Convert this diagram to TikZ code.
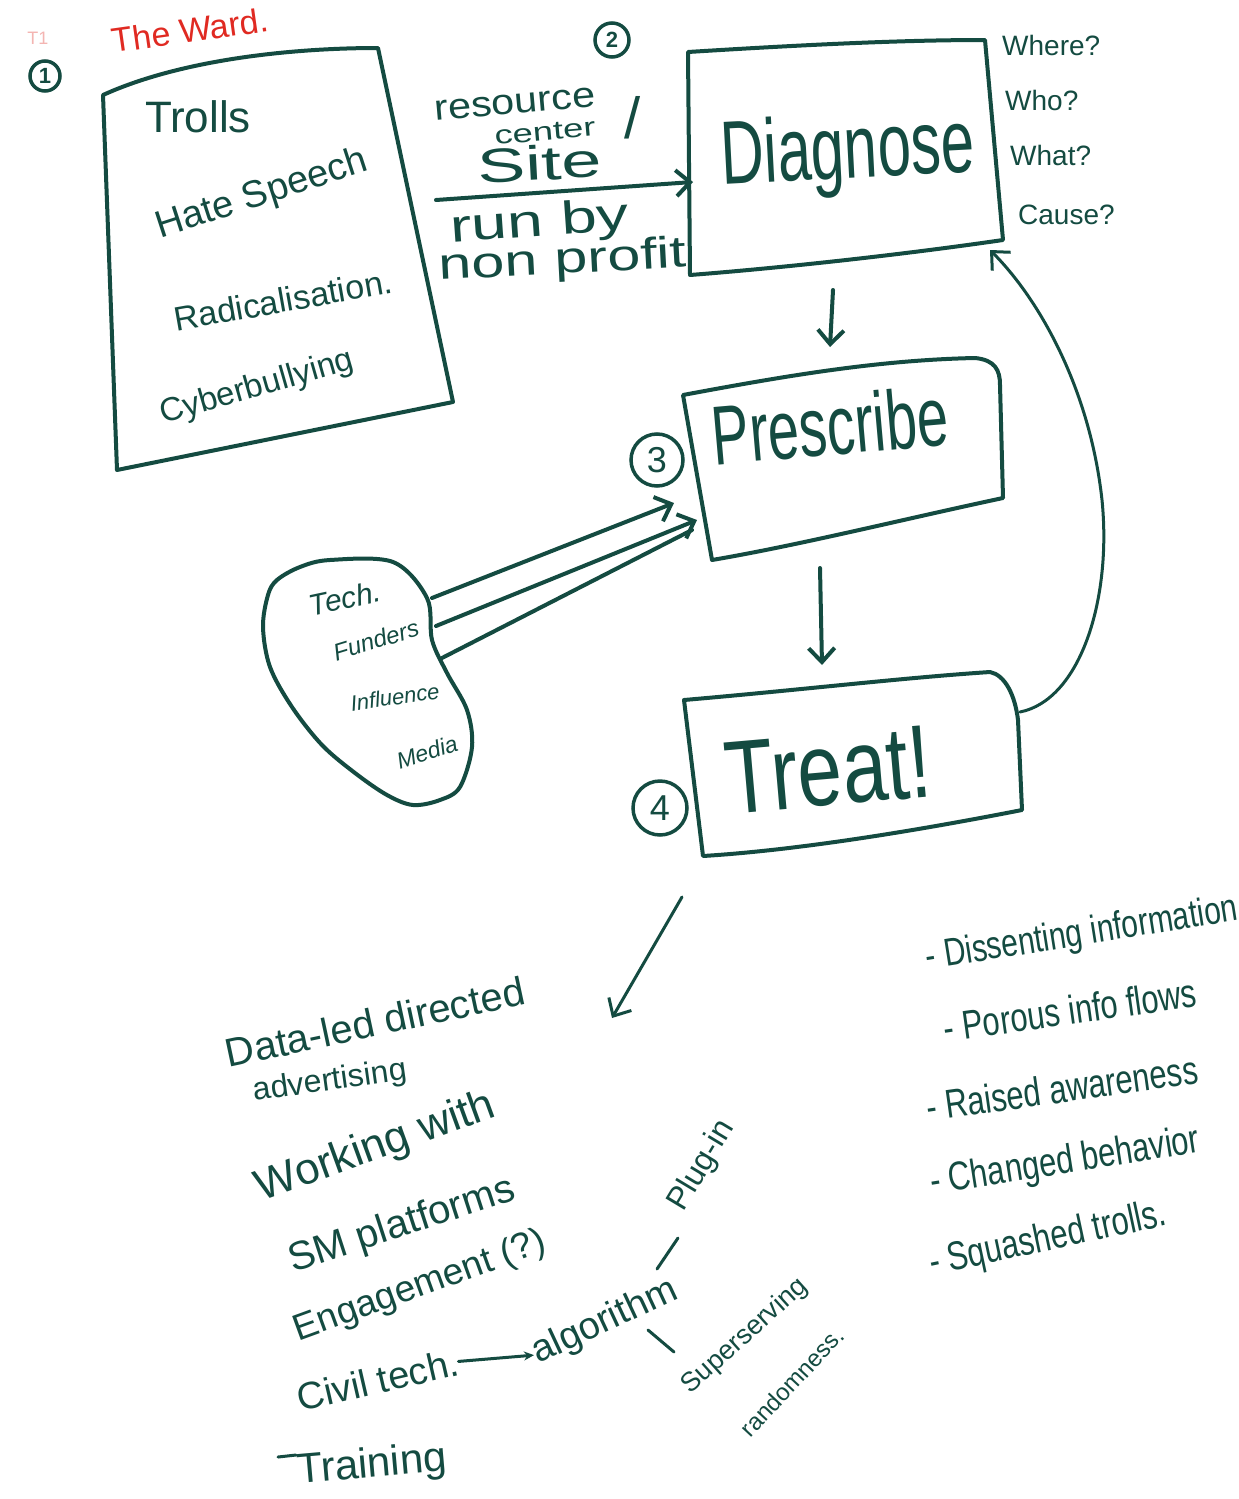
\documentclass[tikz,border=0pt]{standalone}
\usepackage{fontspec}
\setmainfont{Liberation Sans}
\usetikzlibrary{arrows.meta}
\definecolor{ink}{HTML}{144B41}
\definecolor{redink}{HTML}{E02A22}
\newcommand\hsz[1]{\fontsize{#1}{#1}\selectfont}
\tikzset{
  hand/.style={draw=ink, line width=4pt, line cap=round, line join=round},
  thin hand/.style={draw=ink, line width=3pt, line cap=round, line join=round},
  arr/.style={hand, -{Straight Barb[length=14pt,width=26pt]}},
  lbl/.style={text=ink, inner sep=0pt},
  num/.style={draw=ink, circle, line width=3.5pt, text=ink, inner sep=1pt},
}
\begin{document}
\begin{tikzpicture}[x=1pt,y=-1pt]
\useasboundingbox[fill=white] (0,0) rectangle (1239,1499);

% ---------- box 1 ----------
\draw[hand] (103,95) .. controls (180,60) and (290,48) .. (378,48)
  -- (453,402) -- (117,470) -- cycle;
\node[lbl, font=\hsz{44}] (trolls) at (198,117) {Trolls};
\node[lbl, font=\hsz{38}, rotate=18] (hate) at (262,195) {Hate Speech};
\node[lbl, font=\hsz{34}, rotate=10] (radical) at (283,300) {Radicalisation.};
\node[lbl, font=\hsz{33}, rotate=16] (cyber) at (257,388) {Cyberbullying};

\node[text=redink, font=\hsz{34}, rotate=8, inner sep=0pt] (ward) at (190,30) {The Ward.};
\node[text=redink!35, font=\hsz{18}, inner sep=0pt] (t1) at (38,38) {T1};
\node[num, font=\bfseries\hsz{22}, minimum size=30pt] (n1) at (45,76) {1};
\node[num, font=\bfseries\hsz{22}, minimum size=34pt] (n2) at (612,40) {2};

% ---------- site label & arrow ----------
\node[lbl, font=\hsz{36}, rotate=5] (res) at (515,104) {\scalebox{1.15}[1]{resource}};
\node[lbl, font=\hsz{26}, rotate=5] (cen) at (545,132) {\scalebox{1.4}[1]{center}};
\node[lbl, font=\hsz{48}, rotate=3] (site) at (540,163) {\scalebox{1.5}[1]{Site}};
\node[lbl, font=\hsz{58}] (slash) at (633,118) {/};
\node[lbl, font=\hsz{46}, rotate=4] (runby) at (540,224) {\scalebox{1.4}[1]{run by}};
\node[lbl, font=\hsz{44}, rotate=3] (nonprofit) at (563,262) {\scalebox{1.35}[1]{non profit}};

% ---------- Diagnose ----------
\draw[hand] (688,52) .. controls (800,45) and (900,40) .. (985,40)
  -- (1003,240) .. controls (900,255) and (780,268) .. (690,275) -- cycle;
\node[lbl, font=\hsz{60}, rotate=3] (diag) at (848,155) {\scalebox{1}[1.5]{Diagnose}};
\coordinate (dl) at (693,182);
\coordinate (db) at (833,290);
\coordinate (dbr) at (990,250);
\node[lbl, font=\hsz{28}, anchor=west] (where) at (1002,45) {Where?};
\node[lbl, font=\hsz{28}, anchor=west] (who) at (1005,100) {Who?};
\node[lbl, font=\hsz{28}, anchor=west] (what) at (1010,155) {What?};
\node[lbl, font=\hsz{28}, anchor=west] (cause) at (1018,215) {Cause?};

\coordinate (s0) at (436,200);
\draw[arr] (s0) -- (dl);

% ---------- Prescribe ----------
\draw[hand] (683,395) .. controls (790,375) and (880,360) .. (975,358)
  .. controls (995,360) and (1000,370) .. (1000,385)
  -- (1003,498) .. controls (900,520) and (800,545) .. (712,560)
  -- cycle;
\node[lbl, font=\hsz{56}, rotate=5] (presc) at (830,425) {\scalebox{1}[1.5]{Prescribe}};
\node[num, font=\hsz{36}, minimum size=52pt, inner sep=0pt] (n3) at (657,460) {3};
\coordinate (pt) at (830,347);
\coordinate (pb) at (820,568);
\coordinate (pl1) at (674,503);
\coordinate (pl2) at (697,520);
\coordinate (pl3) at (692,530);
\draw[arr] (db) -- (pt);

% ---------- Treat ----------
\draw[hand] (684,700) .. controls (800,690) and (900,678) .. (990,672)
  .. controls (1005,675) and (1015,695) .. (1018,720)
  -- (1022,810) .. controls (920,830) and (800,850) .. (703,856)
  -- cycle;
\node[lbl, font=\hsz{80}, rotate=5] (treat) at (828,770) {\scalebox{1}[1.3]{Treat!}};
\node[num, font=\hsz{36}, minimum size=54pt, inner sep=0pt] (n4) at (660,808) {4};
\coordinate (tt) at (822,665);
\coordinate (tr) at (1020,712);
\coordinate (tb) at (682,897);
\draw[arr] (pb) -- (tt);

% feedback loop
\draw[thin hand, -{Straight Barb[length=14pt,width=26pt]}] (tr) .. controls (1080,700) and (1112,600) .. (1102,500)
  .. controls (1090,390) and (1040,300) .. (dbr);

% ---------- blob ----------
\draw[hand] plot[smooth cycle, tension=0.55] coordinates {
 (277,580) (300,567) (330,560) (393,562) (427,598) (432,640) (447,673)
 (467,710) (472,747) (460,787) (440,800) (413,805) (387,795) (355,773)
 (322,745) (292,707) (270,667) (263,627) (268,595)};
\node[lbl, font=\itshape\hsz{30}, rotate=12] (tech) at (345,598) {Tech.};
\node[lbl, font=\itshape\hsz{24}, rotate=17] (fund) at (376,640) {Funders};
\node[lbl, font=\itshape\hsz{22}, rotate=8] (infl) at (395,697) {Influence};
\node[lbl, font=\itshape\hsz{23}, rotate=18] (media) at (427,752) {Media};
\coordinate (b1) at (432,598);
\coordinate (b2) at (436,626);
\coordinate (b3) at (442,658);
\draw[arr] (b1) -- (pl1);
\draw[arr] (b2) -- (pl2);
\draw[hand] (b3) -- (pl3);

% ---------- arrow to lists ----------
\coordinate (le) at (612,1018);
\draw[thin hand, -{Straight Barb[length=14pt,width=26pt]}] (tb) -- (le);

% ---------- left list ----------
\node[lbl, font=\hsz{40}, rotate=12] (data) at (375,1022) {Data-led directed};
\node[lbl, font=\hsz{32}, rotate=8] (adv) at (330,1082) {advertising};
\node[lbl, font=\hsz{44}, rotate=20] (work) at (376,1148) {Working with};
\node[lbl, font=\hsz{40}, rotate=18] (sm) at (402,1226) {SM platforms};
\node[lbl, font=\hsz{37}, rotate=20] (eng) at (420,1287) {Engagement (?)};
\node[lbl, font=\hsz{38}, rotate=13] (civil) at (378,1380) {Civil tech.};
\node[lbl, font=\hsz{38}, rotate=25] (algo) at (605,1322) {algorithm};
\draw[thin hand, -{Stealth[length=10pt,width=9pt]}] (civil.east) -- (algo.west);
\node[lbl, font=\hsz{32}, rotate=59] (plug) at (702,1166) {Plug-in};
\coordinate (algo1) at (657,1269);
\coordinate (plug1) at (678,1238);
\draw[thin hand] (algo1) -- (plug1);
\coordinate (algo2) at (648,1330);
\coordinate (sup2) at (674,1352);
\draw[thin hand] (algo2) -- (sup2);
\node[lbl, font=\hsz{27}, rotate=42] (super) at (745,1336) {Superserving};
\node[lbl, font=\hsz{24}, rotate=47] (rand) at (792,1382) {randomness.};
\node[lbl, font=\hsz{42}, rotate=5] (train) at (372,1466) {Training};
\coordinate (tr1) at (278,1457);
\coordinate (tr2) at (296,1455);
\draw[thin hand] (tr1) -- (tr2);

% ---------- right list ----------
\node[lbl, font=\hsz{30}, rotate=9] (diss) at (1082,935) {\scalebox{1}[1.3]{- Dissenting information}};
\node[lbl, font=\hsz{31}, rotate=8] (por) at (1070,1010) {\scalebox{1}[1.3]{- Porous info flows}};
\node[lbl, font=\hsz{31}, rotate=8] (rai) at (1062,1088) {\scalebox{1}[1.3]{- Raised awareness}};
\node[lbl, font=\hsz{31}, rotate=9] (cha) at (1065,1163) {\scalebox{1}[1.3]{- Changed behavior}};
\node[lbl, font=\hsz{31}, rotate=12] (squ) at (1048,1240) {\scalebox{1}[1.3]{- Squashed trolls.}};
\end{tikzpicture}
\end{document}
